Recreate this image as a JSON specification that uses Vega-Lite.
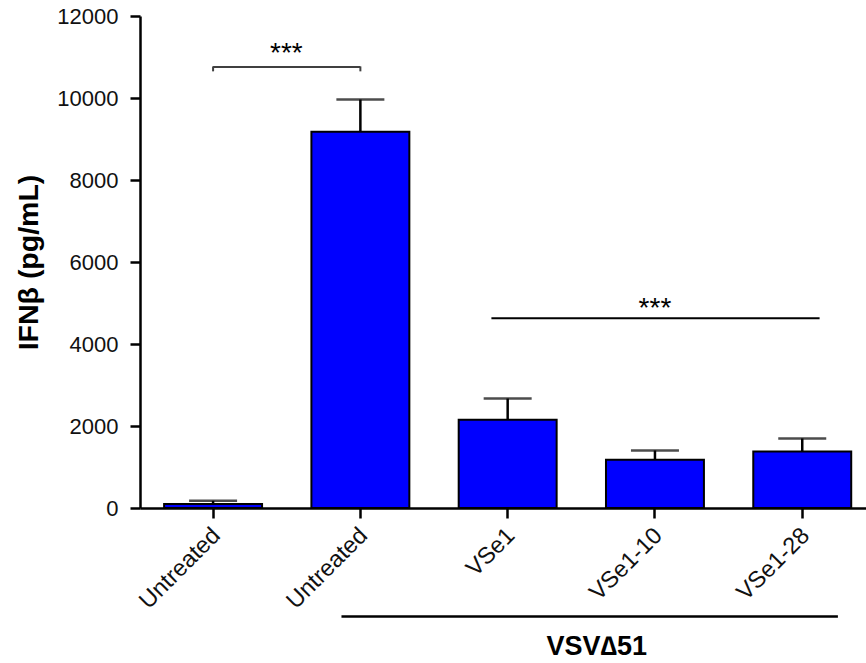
{
  "$schema": "https://vega.github.io/schema/vega-lite/v6.json",
  "autosize": "none",
  "padding": {"left": 140, "top": 16, "right": 0, "bottom": 155},
  "width": 726,
  "height": 492,
  "datasets": {
    "bars": [
      {"group": "Untreated|1", "value": 100, "upper": 175},
      {"group": "Untreated|2", "value": 9174, "upper": 9963},
      {"group": "VSe1", "value": 2151, "upper": 2670},
      {"group": "VSe1-10", "value": 1177, "upper": 1403},
      {"group": "VSe1-28", "value": 1379, "upper": 1696}
    ]
  },
  "layer": [
    {
      "data": {"name": "bars"},
      "mark": {"type": "rule", "color": "black", "strokeWidth": 2.5},
      "encoding": {
        "x": {"field": "group", "type": "nominal", "title": null,
          "scale": {"domain": ["Untreated|1", "Untreated|2", "VSe1", "VSe1-10", "VSe1-28"], "paddingInner": 0.335, "paddingOuter": 0.132, "align": 0.62},
          "axis": {"labelExpr": "split(datum.label, '|')[0]", "labelAngle": -45, "labelPadding": 5, "labelOffset": -5, "labelFontSize": 23.5}},
        "y": {"field": "value", "type": "quantitative", "title": "IFNβ (pg/mL)",
          "scale": {"domain": [0, 12000], "nice": false},
          "axis": {"format": "d", "values": [0, 2000, 4000, 6000, 8000, 10000, 12000], "labelPadding": 12, "titleFontSize": 28.5, "titleFontWeight": "bold", "titleFont": "Liberation Sans", "titlePadding": 13, "titleColor": "black"}},
        "y2": {"field": "upper"}
      }
    },
    {
      "data": {"name": "bars"},
      "mark": {"type": "tick", "color": "black", "size": 48, "thickness": 2.5},
      "encoding": {
        "x": {"field": "group", "type": "nominal", "title": null},
        "y": {"field": "upper", "type": "quantitative", "title": "IFNβ (pg/mL)"}
      }
    },
    {
      "data": {"name": "bars"},
      "mark": {"type": "bar", "fill": "#0000FF", "stroke": "black", "strokeWidth": 2},
      "encoding": {
        "x": {"field": "group", "type": "nominal", "title": null},
        "y": {"field": "value", "type": "quantitative", "title": "IFNβ (pg/mL)"}
      }
    },
    {
      "data": {"values": [{"a": "Untreated|1", "b": "Untreated|2", "y": 10758}]},
      "mark": {"type": "rule", "color": "#404040", "strokeWidth": 2},
      "encoding": {
        "x": {"field": "a", "type": "nominal", "title": null},
        "x2": {"field": "b"},
        "y": {"field": "y", "type": "quantitative", "title": "IFNβ (pg/mL)"}
      }
    },
    {
      "data": {"values": [{"a": "Untreated|1", "y": 10770, "y2": 10650}, {"a": "Untreated|2", "y": 10770, "y2": 10650}]},
      "mark": {"type": "rule", "color": "#404040", "strokeWidth": 2},
      "encoding": {
        "x": {"field": "a", "type": "nominal", "title": null},
        "y": {"field": "y", "type": "quantitative", "title": "IFNβ (pg/mL)"},
        "y2": {"field": "y2"}
      }
    },
    {
      "data": {"values": [{"a": "Untreated|2", "y": 10880, "t": "***"}]},
      "mark": {"type": "text", "fontSize": 28, "font": "Liberation Sans", "color": "black", "baseline": "alphabetic", "align": "center"},
      "encoding": {
        "x": {"field": "a", "type": "nominal", "title": null, "bandPosition": -0.255},
        "y": {"field": "y", "type": "quantitative", "title": "IFNβ (pg/mL)"},
        "text": {"field": "t"}
      }
    },
    {
      "data": {"values": [{"a": "VSe1", "b": "VSe1-28", "y": 4628}]},
      "mark": {"type": "rule", "color": "black", "strokeWidth": 2},
      "encoding": {
        "x": {"field": "a", "type": "nominal", "title": null, "bandPosition": 0.334},
        "x2": {"field": "b", "bandPosition": 0.677},
        "y": {"field": "y", "type": "quantitative", "title": "IFNβ (pg/mL)"}
      }
    },
    {
      "data": {"values": [{"a": "VSe1-10", "y": 4660, "t": "***"}]},
      "mark": {"type": "text", "fontSize": 28, "font": "Liberation Sans", "color": "black", "baseline": "alphabetic", "align": "center"},
      "encoding": {
        "x": {"field": "a", "type": "nominal", "title": null},
        "y": {"field": "y", "type": "quantitative", "title": "IFNβ (pg/mL)"},
        "text": {"field": "t"}
      }
    },
    {
      "data": {"values": [{"a": "Untreated|2", "b": "VSe1-28", "y": -2648}]},
      "mark": {"type": "rule", "color": "black", "strokeWidth": 2.5},
      "encoding": {
        "x": {"field": "a", "type": "nominal", "title": null, "bandPosition": 0.307},
        "x2": {"field": "b", "bandPosition": 0.864},
        "y": {"field": "y", "type": "quantitative", "title": "IFNβ (pg/mL)"}
      }
    },
    {
      "data": {"values": [{"a": "VSe1-10", "y": -3574, "t": "VSV∆51"}]},
      "mark": {"type": "text", "fontSize": 27, "fontWeight": "bold", "font": "Liberation Sans", "color": "black", "baseline": "alphabetic", "align": "center"},
      "encoding": {
        "x": {"field": "a", "type": "nominal", "title": null, "bandPosition": -0.094},
        "y": {"field": "y", "type": "quantitative", "title": "IFNβ (pg/mL)"},
        "text": {"field": "t"}
      }
    }
  ],
  "config": {
    "view": {"stroke": null},
    "font": "Liberation Sans",
    "axis": {"domainColor": "black", "domainWidth": 2.5, "tickColor": "black", "tickWidth": 2.5, "tickSize": 10, "labelFont": "Liberation Sans", "labelFontSize": 22, "labelColor": "#111", "grid": false}
  }
}
